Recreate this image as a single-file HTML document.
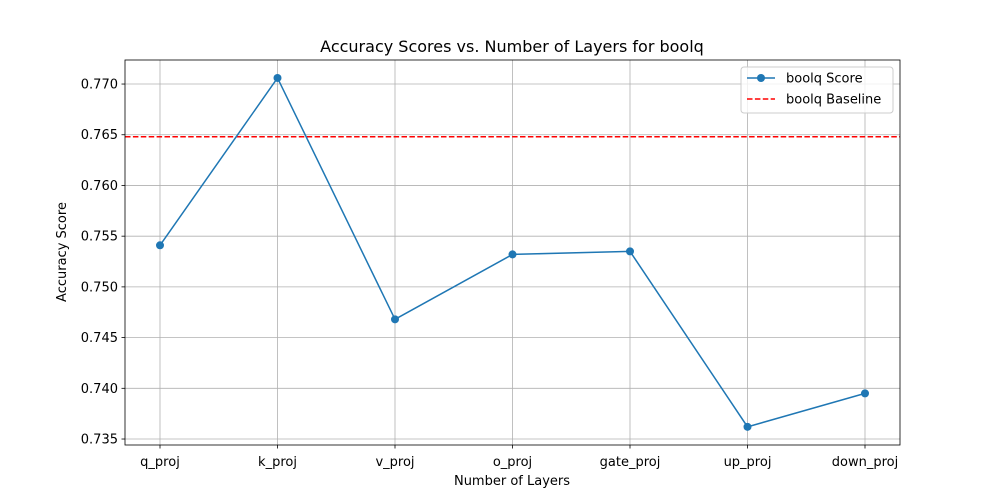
<!DOCTYPE html>
<html><head><meta charset="utf-8"><style>
body{margin:0;background:#fff;font-family:"DejaVu Sans","Liberation Sans",sans-serif;}
svg text{font-family:"DejaVu Sans","Liberation Sans",sans-serif;}
</style></head><body>
<svg id="chart" width="1000" height="500" xmlns="http://www.w3.org/2000/svg"></svg>
<script>
const categories=["q_proj","k_proj","v_proj","o_proj","gate_proj","up_proj","down_proj"];
const scores=[0.7541,0.7706,0.7468,0.7532,0.7535,0.7362,0.7395];
const baseline=[0.7648];
const yTicks=[0.735,0.740,0.745,0.750,0.755,0.760,0.765,0.770];
const L=125,R=900,T=60,B=445,yMin=0.73441,yMax=0.77237;
const xs=i=>160+i*(865-160)/(categories.length-1);
const ys=v=>B-(v-yMin)/(yMax-yMin)*(B-T);
const svg=document.getElementById('chart');const NS='http://www.w3.org/2000/svg';
function mk(t,a,p){const e=document.createElementNS(NS,t);for(const k in a)e.setAttribute(k,a[k]);(p||svg).appendChild(e);return e;}
let e;
e=mk('text',{x:512,y:52,'text-anchor':'middle','font-size':16,fill:'#000'});e.textContent='Accuracy Scores vs. Number of Layers for boolq';


categories.forEach((c,i)=>{const x=xs(i);
e=mk('line',{x1:x,x2:x,y1:T,y2:B,stroke:'#b0b0b0','stroke-width':0.8});


mk('line',{x1:x,x2:x,y1:B,y2:B+3.5,stroke:'#000','stroke-width':0.8});
e=mk('text',{x:x,y:B+21,'text-anchor':'middle','font-size':13,fill:'#000'});e.textContent=c;

});
yTicks.forEach(v=>{const y=ys(v);
e=mk('line',{x1:L,x2:R,y1:y,y2:y,stroke:'#b0b0b0','stroke-width':0.8});


mk('line',{x1:L-3.5,x2:L,y1:y,y2:y,stroke:'#000','stroke-width':0.8});
e=mk('text',{x:L-7,y:y+4.5,'text-anchor':'end','font-size':13,fill:'#000'});e.textContent=v.toFixed(3);

});
e=mk('line',{x1:L,x2:R,y1:ys(baseline[0]),y2:ys(baseline[0]),stroke:'#ff0000','stroke-width':1.5,'stroke-dasharray':'5.5,2.4'});


e=mk('polyline',{points:scores.map((v,i)=>xs(i)+','+ys(v)).join(' '),fill:'none',stroke:'#1f77b4','stroke-width':1.5});


scores.forEach((v,i)=>{e=mk('circle',{cx:xs(i),cy:ys(v),r:4,fill:'#1f77b4'});

});
e=mk('rect',{x:L,y:T,width:R-L,height:B-T,fill:'none',stroke:'#000','stroke-width':0.8});


e=mk('text',{x:512,y:485,'text-anchor':'middle','font-size':13,fill:'#000'});e.textContent='Number of Layers';


e=mk('text',{x:0,y:0,'text-anchor':'middle','font-size':13,fill:'#000',transform:'translate(66,252) rotate(-90)'});e.textContent='Accuracy Score';


const g=mk('g',{});


mk('rect',{x:741,y:67,width:152,height:46,rx:3,fill:'#fff','fill-opacity':0.8,stroke:'#ccc'},g);
mk('line',{x1:747,x2:775,y1:78,y2:78,stroke:'#1f77b4','stroke-width':1.5},g);
mk('circle',{cx:761,cy:78,r:4,fill:'#1f77b4'},g);
e=mk('text',{x:786,y:82.5,'font-size':13,fill:'#000'},g);e.textContent='boolq Score';


mk('line',{x1:747,x2:775,y1:99,y2:99,stroke:'#ff0000','stroke-width':1.5,'stroke-dasharray':'5.5,2.4'},g);
e=mk('text',{x:786,y:103.5,'font-size':13,fill:'#000'},g);e.textContent='boolq Baseline';


</script>
</body></html>
